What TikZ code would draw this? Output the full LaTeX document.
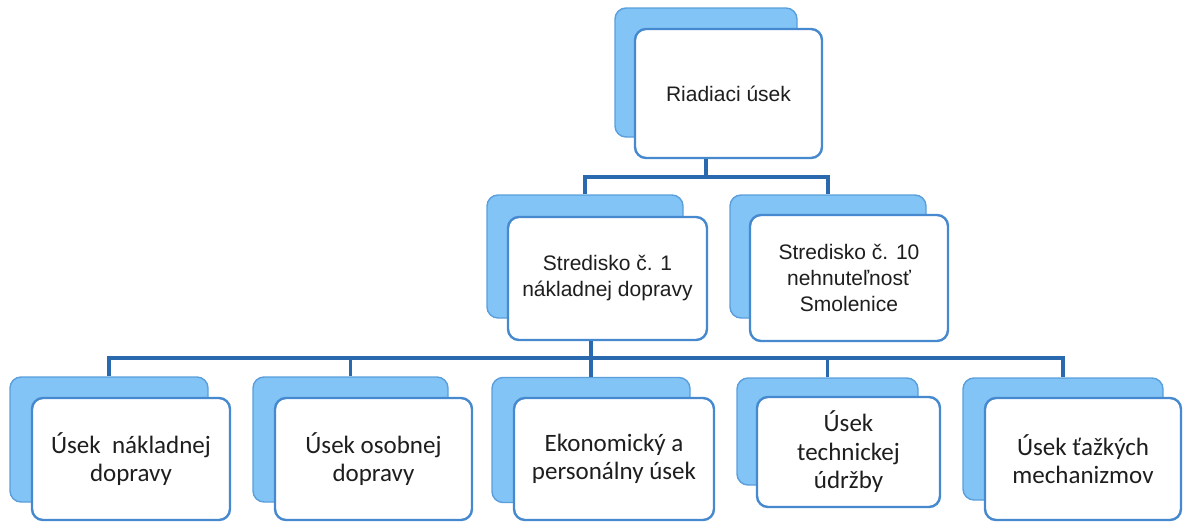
\documentclass[tikz,border=0pt]{standalone}
\usepackage{fontspec}
\setmainfont{Liberation Sans}
\newfontfamily\calibri{Carlito}
\definecolor{boxfill}{HTML}{82C4F6}
\definecolor{boxedge}{HTML}{5A9FDC}
\definecolor{frontedge}{HTML}{4789CE}
\definecolor{linkcol}{HTML}{2A69AE}
\definecolor{txt}{HTML}{1E1E1E}
\begin{document}
\begin{tikzpicture}[x=1pt,y=-1pt,
    back/.style={draw=boxedge,fill=boxfill,line width=1.4pt,rounded corners=11pt,inner sep=0pt},
    front/.style={draw=frontedge,fill=white,line width=2.4pt,rounded corners=11pt,inner sep=0pt,
      align=center,text=txt,font=\fontsize{21}{26}\selectfont},
    low/.style={front,font=\calibri\fontsize{25}{28.5}\selectfont},
    link/.style={draw=linkcol,line width=3.2pt}]
  \useasboundingbox (0,0) rectangle (1184,522);
  % top
  \node[back,minimum width=182pt,minimum height=129pt] (riadiaciB) at (706,72.5) {};
  \node[front,minimum width=187pt,minimum height=129pt] (riadiaci) at (728.5,93.5) {Riadiaci úsek};
  % middle level
  \node[back,minimum width=196pt,minimum height=123pt] (str1B) at (585,256.5) {};
  \node[front,minimum width=199pt,minimum height=123pt] (str1) at (607.5,278.5) {Stredisko č. 1\\nákladnej dopravy};
  \node[back,minimum width=196pt,minimum height=123pt] (str10B) at (828,256.5) {};
  \node[front,minimum width=198pt,minimum height=126pt] (str10) at (849,278) {Stredisko č. 10\\nehnuteľnosť\\Smolenice};
  % bottom level
  \node[back,minimum width=198pt,minimum height=125pt] (nakB) at (109,439.5) {};
  \node[low,minimum width=198pt,minimum height=122pt] (nak) at (131,459) {Úsek~ nákladnej\\dopravy};
  \node[back,minimum width=195pt,minimum height=125pt] (osobB) at (350.5,439.5) {};
  \node[low,minimum width=197pt,minimum height=122pt] (osob) at (373.5,459) {Úsek osobnej\\dopravy};
  \node[back,minimum width=198pt,minimum height=125pt] (ekoB) at (591,440) {};
  \node[low,minimum width=200pt,minimum height=122pt] (eko) at (614,459) {Ekonomický a\\personálny úsek};
  \node[back,minimum width=181pt,minimum height=107pt] (udrB) at (827.5,431.5) {};
  \node[low,minimum width=183pt,minimum height=110pt] (udr) at (848.5,452) {Úsek\\technickej\\údržby};
  \node[back,minimum width=200pt,minimum height=122pt] (mechB) at (1063,439) {};
  \node[low,minimum width=196pt,minimum height=122pt] (mech) at (1083,459) {Úsek ťažkých\\mechanizmov};
  % connectors
  \coordinate (bus1) at (riadiaciB.center |- 0,177);
  \coordinate (bus2) at (0,358);
  \draw[link] (riadiaci.south -| bus1) -- (bus1);
  \draw[link] (str1B.north) |- (str10B.north |- bus1) -- (str10B.north);
  \draw[link] (str1.south -| ekoB.north) -- (ekoB.north);
  \draw[link] (nakB.north) |- (mechB.north |- bus2) -- (mechB.north);
  \foreach \n in {osobB,udrB}
    \draw[link] (\n.north) -- (\n.north |- bus2);
\end{tikzpicture}
\end{document}
